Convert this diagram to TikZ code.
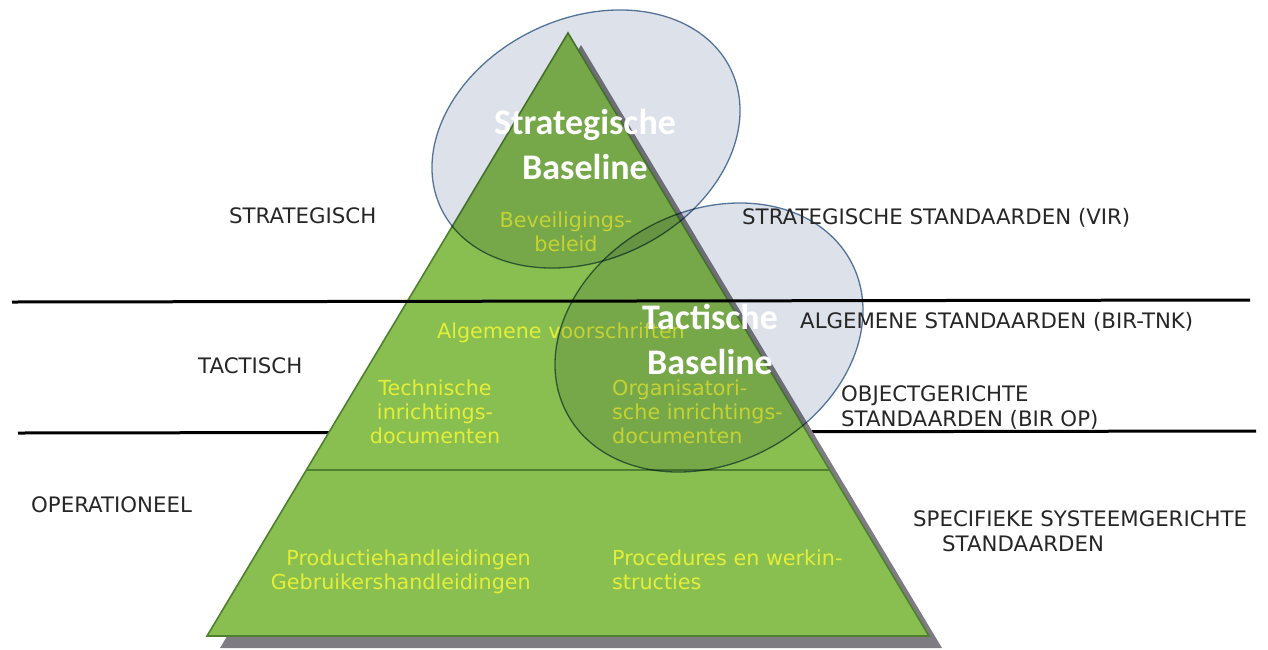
\documentclass[tikz,border=0pt]{standalone}
\usepackage{fontspec}
\setmainfont{DejaVu Sans}
\newfontfamily\titlefont{Carlito}
\usetikzlibrary{shapes.geometric}
\definecolor{pgreen}{HTML}{89BF50}
\definecolor{pedge}{HTML}{4F8030}
\definecolor{pshadow}{HTML}{7E7C82}
\definecolor{ytext}{HTML}{E3EE3A}
\definecolor{ellfill}{HTML}{DDE1E9}
\definecolor{elledge}{HTML}{5A7CA0}
\definecolor{ltext}{HTML}{262626}
\tikzset{
  lbl/.style={inner sep=0pt, text=ltext, font=\fontsize{21.3}{24.5}\selectfont},
  ylbl/.style={inner sep=0pt, text=ytext, font=\fontsize{20.7}{24}\selectfont},
  ttl/.style={inner sep=0pt, text=white, align=center, font=\titlefont\bfseries\fontsize{36}{45}\selectfont},
  baseline ell/.style={ellipse, draw=elledge, line width=1.3pt, fill=ellfill, inner sep=0pt},
  divider/.style={line width=3pt, black},
}
\begin{document}
\begin{tikzpicture}[x=1pt,y=-1pt]
\useasboundingbox (0,0) rectangle (1268,649);
% pyramid geometry
\coordinate (apex) at (568,33);
\coordinate (bl) at (207,636);
\coordinate (br) at (929,636);
\coordinate (ml) at (306.4,470);
\coordinate (mr) at (829.6,470);
% lower divider (behind the pyramid)
\coordinate (d2a) at (18,433);
\coordinate (d2b) at (1256,431);
\draw[divider] (d2a) -- (d2b);
% shadow
\fill[pshadow] ([shift={(13,12)}]apex) -- ([shift={(13,12)}]br) -- ([shift={(13,12)}]bl) -- cycle;
% pyramid
\filldraw[fill=pgreen, draw=pedge, line width=1.6pt, line join=miter] (apex) -- (br) -- (bl) -- cycle;
\draw[pedge, line width=1.3pt] (ml) -- (mr);
% yellow texts (base anchor = baseline of last line)
\node[ylbl, align=center, anchor=base] (bev) at (566,251.5) {Beveiligings-\\beleid};
\node[ylbl, anchor=base] (alg) at (561,338.5) {Algemene voorschriften};
\node[ylbl, align=center, anchor=base] (tech) at (435,443) {Technische\\inrichtings-\\documenten};
\node[ylbl, align=left, anchor=base west] (org) at (612,443) {Organisatori-\\sche inrichtings-\\documenten};
\node[ylbl, align=right, anchor=base east] (prod) at (531,589) {Productiehandleidingen\\Gebruikershandleidingen};
\node[ylbl, align=left, anchor=base west] (proc) at (612,589) {Procedures en werkin-\\structies};
% ellipses
\begin{scope}[blend mode=multiply]
\node[baseline ell, minimum width=321.4pt, minimum height=241.2pt, rotate=25.6] (strat) at (586,139) {};
\node[baseline ell, minimum width=322pt, minimum height=252pt, rotate=28] (tact) at (709,337.5) {};
\end{scope}
% upper divider (over everything)
\coordinate (d1a) at (12,302);
\coordinate (d1b) at (1250,300);
\draw[divider] (d1a) -- (d1b);
% titles
\node[ttl, anchor=base] (sbl) at (585,179.5) {Strategische\\Baseline};
\node[ttl, anchor=base] (tbl) at (710,374.5) {Tactische\\Baseline};
% left labels
\node[lbl, anchor=base west] (lstrat) at (229,223.3) {STRATEGISCH};
\node[lbl, anchor=base west] (ltact) at (198,373.3) {TACTISCH};
\node[lbl, anchor=base west] (lop) at (31,512) {OPERATIONEEL};
% right labels
\node[lbl, anchor=base west] (rvir) at (742,224.5) {STRATEGISCHE STANDAARDEN (VIR)};
\node[lbl, anchor=base west] (rbir) at (800,328) {ALGEMENE STANDAARDEN (BIR-TNK)};
\node[lbl, align=left, anchor=base west] (robj) at (841,426) {OBJECTGERICHTE\\STANDAARDEN (BIR OP)};
\node[lbl, align=left, anchor=base west] (rspec) at (913,551) {SPECIFIEKE SYSTEEMGERICHTE\\\hspace*{29pt}STANDAARDEN};
\end{tikzpicture}
\end{document}
